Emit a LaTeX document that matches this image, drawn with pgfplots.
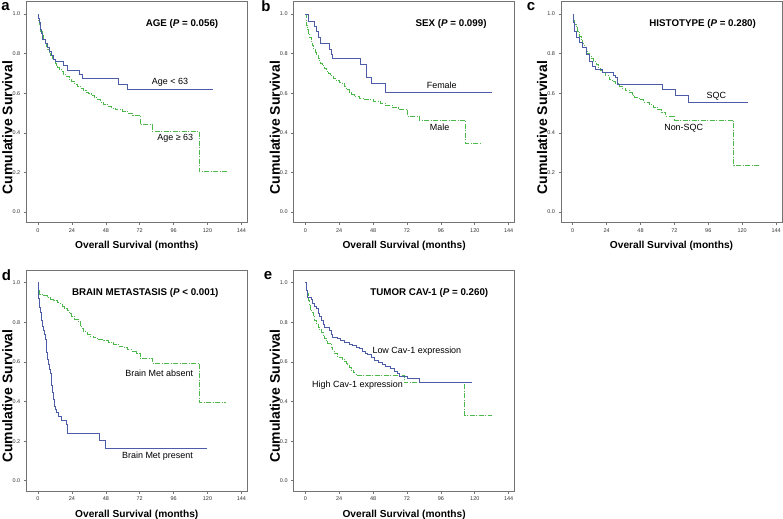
\documentclass[border=0pt]{standalone}
\usepackage{fontspec}
\setmainfont{Liberation Sans}
\usepackage{pgfplots}
\pgfplotsset{compat=1.18}
\definecolor{kmblue}{RGB}{76,92,166}
\definecolor{kmgreen}{RGB}{76,184,76}
\definecolor{kmframe}{RGB}{115,115,115}
\pgfplotsset{
  km/.style={
    scale only axis, width=221bp, height=220.5bp,
    xmin=-8.3, xmax=148.2, ymin=-0.052, ymax=1.062,
    xtick={0,24,48,72,96,120,144},
    ytick={0,0.2,0.4,0.6,0.8,1.0},
    yticklabel style={/pgf/number format/.cd,fixed,fixed zerofill,precision=1},
    /pgf/number format/assume math mode=true,
    tick pos=left, tick align=outside, major tick length=2.5bp,
    tick style={kmframe, line width=0.6bp},
    axis line style={kmframe, line width=0.8bp},
    tick label style={font=\fontsize{5.5}{6}\selectfont, text=black!80},
    xlabel={Overall Survival (months)},
    ylabel={Cumulative Survival},
    xlabel style={font=\fontsize{10.2}{12}\selectfont\bfseries, at={(axis description cs:0.5,-0.106)}, anchor=center},
    ylabel style={font=\fontsize{14}{16}\selectfont\bfseries, at={(axis description cs:-0.085,0.43)}, anchor=center},
    clip=false,
  },
  blueline/.style={const plot, kmblue, line width=0.9bp, no marks},
  greenline/.style={const plot, kmgreen, line width=0.9bp, no marks, dash pattern=on 5bp off 1.5bp on 1bp off 1.5bp},
}
\tikzset{
  ttl/.style={anchor=east, font=\fontsize{9.8}{11}\selectfont\bfseries},
  lbl/.style={anchor=center, font=\fontsize{9}{10.8}\selectfont},
  plet/.style={font=\fontsize{15}{16}\selectfont\bfseries, inner sep=0},
}
\begin{document}
\begin{tikzpicture}
\path[use as bounding box] (0,0) rectangle (783bp,519bp);
% ---------- a ----------
\begin{axis}[km, at={(26.3bp,296.7bp)}, anchor=south west]
\addplot[greenline] coordinates {(0,1.0)(0.5,0.97)(1,0.95)(1.5,0.93)(2,0.91)(3,0.89)(4,0.87)(5,0.85)(6,0.835)(7,0.82)(8,0.80)(9,0.79)(10,0.775)(11,0.765)(12,0.75)(13,0.74)(14,0.73)(15,0.72)(16.5,0.71)(18,0.695)(20,0.685)(22,0.67)(24,0.66)(26,0.645)(28,0.635)(30,0.625)(32,0.615)(34,0.605)(36,0.597)(38,0.59)(40,0.578)(42,0.567)(44,0.556)(46,0.545)(49,0.535)(52,0.525)(55,0.516)(60,0.508)(64,0.50)(67,0.488)(72.3,0.44)(81,0.407)(114.3,0.204)(133.6,0.204)};
\addplot[blueline] coordinates {(0,1.0)(0.5,0.98)(1,0.96)(1.5,0.94)(2,0.92)(2.5,0.90)(3,0.87)(5.5,0.85)(6.5,0.83)(8,0.81)(9.5,0.79)(11,0.77)(12.5,0.76)(18,0.74)(20.5,0.713)(29,0.693)(31.5,0.673)(57,0.646)(63,0.617)(124,0.617)};
\node[ttl] at (axis cs:130.1,0.952) {AGE (\textit{P} = 0.056)};
\node[lbl] at (axis cs:93.5,0.653) {Age < 63};
\node[lbl] at (axis cs:97.2,0.374) {Age ≥ 63};
\end{axis}
% ---------- b ----------
\begin{axis}[km, at={(293.6bp,296.7bp)}, anchor=south west]
\addplot[greenline] coordinates {(0,1)(0.5,0.96)(1,0.94)(1.5,0.92)(2,0.90)(3,0.88)(4,0.86)(5,0.84)(6,0.82)(7,0.805)(8,0.79)(9,0.777)(10,0.765)(11,0.752)(12,0.74)(13.5,0.727)(15,0.712)(16.5,0.70)(18,0.688)(20,0.675)(22,0.665)(24,0.655)(26,0.648)(27.5,0.635)(29,0.62)(31,0.605)(33,0.592)(35,0.583)(38,0.575)(42,0.567)(48,0.56)(53,0.55)(57,0.54)(62,0.527)(66,0.52)(72.3,0.484)(80.5,0.465)(113.5,0.347)(124,0.347)};
\addplot[blueline] coordinates {(0,1)(1.9,0.961)(6.6,0.939)(8.2,0.914)(9.4,0.88)(10.8,0.85)(17.2,0.821)(18.3,0.796)(19.5,0.775)(38.7,0.745)(43,0.681)(46.5,0.647)(57,0.605)(132.3,0.605)};
\node[ttl] at (axis cs:130.8,0.952) {SEX (\textit{P} = 0.099)};
\node[lbl] at (axis cs:96.6,0.638) {Female};
\node[lbl] at (axis cs:95.1,0.427) {Male};
\end{axis}
% ---------- c ----------
\begin{axis}[km, at={(561bp,296.7bp)}, anchor=south west]
\addplot[greenline] coordinates {(0,1)(0.7,0.97)(1.5,0.95)(2.3,0.93)(3.5,0.91)(4.7,0.889)(6,0.87)(7,0.85)(8.2,0.83)(9.5,0.815)(10.5,0.80)(11.7,0.788)(13,0.775)(14.5,0.76)(16.5,0.745)(18,0.73)(19.5,0.715)(21.2,0.703)(23,0.69)(25.8,0.669)(28,0.66)(30,0.65)(32.9,0.636)(35,0.625)(37.5,0.614)(40,0.602)(42,0.59)(44,0.578)(47,0.568)(50,0.555)(54,0.543)(57,0.53)(60,0.517)(63,0.505)(65.9,0.484)(72.3,0.465)(114,0.234)(132.7,0.234)};
\addplot[blueline] coordinates {(0,1)(0.5,0.96)(1.2,0.914)(2.3,0.88)(4.7,0.855)(7,0.83)(9.4,0.796)(11.7,0.762)(14.1,0.737)(16,0.72)(21,0.703)(28.5,0.69)(30.6,0.678)(31.8,0.644)(63.5,0.619)(72.5,0.59)(81.6,0.555)(124,0.555)};
\node[ttl] at (axis cs:132.2,0.952) {HISTOTYPE (\textit{P} = 0.280)};
\node[lbl] at (axis cs:101.7,0.586) {SQC};
\node[lbl] at (axis cs:78.6,0.424) {Non-SQC};
\end{axis}
% ---------- d ----------
\begin{axis}[km, at={(26.3bp,28bp)}, anchor=south west]
\addplot[greenline] coordinates {(0,1)(0.5,0.96)(1.1,0.942)(3,0.935)(6.4,0.926)(9,0.917)(11,0.909)(13.5,0.90)(15.8,0.892)(17,0.88)(18.5,0.87)(20.5,0.858)(22,0.845)(24,0.83)(26,0.815)(28.5,0.805)(30,0.785)(31,0.77)(32.2,0.752)(35,0.74)(37,0.73)(39.3,0.724)(42,0.714)(46.4,0.707)(50,0.70)(53.5,0.69)(57,0.68)(60,0.673)(63,0.663)(66,0.655)(70,0.645)(72.4,0.618)(81.3,0.593)(114.3,0.394)(133,0.394)};
\addplot[blueline] coordinates {(0,1)(0.3,0.963)(0.6,0.92)(1.2,0.874)(1.7,0.85)(2.1,0.832)(2.7,0.81)(3.3,0.781)(3.9,0.76)(4.5,0.739)(5.1,0.715)(5.7,0.689)(6.3,0.65)(6.8,0.613)(7.4,0.585)(8,0.562)(8.6,0.54)(9.2,0.52)(9.8,0.48)(10.4,0.444)(11,0.41)(11.5,0.377)(12.1,0.36)(12.7,0.343)(14.6,0.327)(16.5,0.305)(19.8,0.285)(20.5,0.237)(43.4,0.205)(47.6,0.163)(119.5,0.163)};
\node[ttl] at (axis cs:130.3,0.947) {BRAIN METASTASIS (\textit{P} < 0.001)};
\node[lbl] at (axis cs:85.8,0.545) {Brain Met absent};
\node[lbl] at (axis cs:84.6,0.124) {Brain Met present};
\end{axis}
% ---------- e ----------
\begin{axis}[km, at={(293.6bp,28bp)}, anchor=south west]
\addplot[greenline] coordinates {(0,1)(0.5,0.97)(1.4,0.944)(2,0.91)(2.6,0.885)(3.5,0.865)(4.2,0.852)(5.5,0.83)(6.5,0.81)(7.8,0.793)(9,0.775)(10,0.762)(11.3,0.75)(12.5,0.735)(13.5,0.72)(14.8,0.709)(16,0.695)(18.3,0.675)(19.5,0.655)(20.7,0.641)(23,0.625)(26,0.615)(27.7,0.603)(29,0.59)(30,0.582)(31.2,0.57)(32.4,0.557)(34,0.545)(35.9,0.532)(70.1,0.495)(113,0.33)(132.3,0.33)};
\addplot[blueline] coordinates {(0,1)(0.7,0.962)(1.4,0.927)(4.2,0.916)(5.4,0.894)(6.6,0.88)(7.8,0.869)(9,0.844)(10,0.83)(11.3,0.81)(12.5,0.79)(13.7,0.776)(17.2,0.759)(18.5,0.74)(19.5,0.725)(23,0.717)(25,0.71)(27.7,0.70)(31,0.69)(33.6,0.683)(36,0.675)(38.3,0.667)(40.8,0.655)(42.5,0.645)(44.1,0.638)(46.5,0.625)(48.8,0.61)(52,0.598)(54.7,0.588)(57,0.578)(60.6,0.565)(63,0.552)(65.2,0.54)(67,0.525)(72.3,0.517)(80.7,0.495)(118.2,0.495)};
\node[ttl] at (axis cs:132,0.947) {TUMOR CAV-1 (\textit{P} = 0.260)};
\node[lbl] at (axis cs:79.0,0.655) {Low Cav-1 expression};
\node[lbl] at (axis cs:37.0,0.485) {High Cav-1 expression};
\end{axis}
% panel letters
\node[plet] at (5.5bp,512.5bp) {a};
\node[plet] at (266bp,512.5bp) {b};
\node[plet] at (531bp,512.5bp) {c};
\node[plet] at (6.5bp,244bp) {d};
\node[plet] at (268bp,243bp) {e};
\end{tikzpicture}
\end{document}
